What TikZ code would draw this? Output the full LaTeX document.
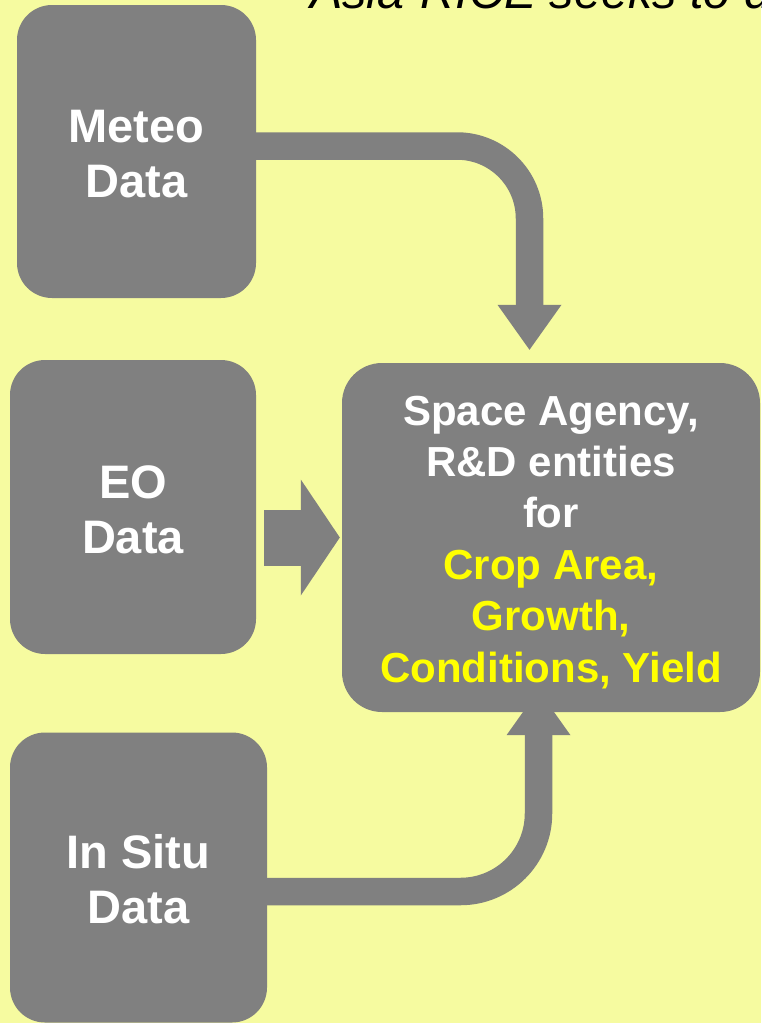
\documentclass[tikz,border=0pt]{standalone}
\usepackage{fontspec}
\setmainfont{Liberation Sans}
\usetikzlibrary{arrows.meta}
\definecolor{bgy}{HTML}{F6FBA0}
\definecolor{boxg}{HTML}{808080}
\definecolor{ytxt}{HTML}{FFFF00}
\pgfdeclarelayer{bgl}
\pgfdeclarelayer{arr}
\pgfsetlayers{bgl,arr,main}
\tikzset{
  srcbox/.style={fill=boxg, rounded corners=35pt, text=white, align=center,
    font=\fontsize{47}{55}\selectfont\bfseries, inner sep=0pt, text depth=0pt},
  hubbox/.style={fill=boxg, rounded corners=40pt, text=white, align=center,
    font=\fontsize{42}{51.4}\selectfont\bfseries, inner sep=0pt, text depth=0pt},
  flow/.style={draw=boxg, line width=27.5pt, rounded corners=#1,
    -{Triangle[length=45pt,width=64pt,line width=0pt]}},
  fatflow/.style={draw=boxg, line width=56pt,
    -{Triangle[length=39pt,width=116pt,line width=0pt]}},
  titletext/.style={font=\fontsize{48.5}{58}\selectfont\itshape, inner sep=0pt, anchor=base west}
}
\begin{document}
\begin{tikzpicture}[x=1pt,y=-1pt]
\useasboundingbox (0,0) rectangle (761,1023);
\begin{pgfonlayer}{bgl}
  \fill[bgy] (0,0) rectangle (761,1023);
\end{pgfonlayer}
\clip (0,0) rectangle (761,1023);

\node[titletext] (title) at (310,8) {Asia-RICE seeks to d};

\node[srcbox, text height=91pt, minimum width=239pt, minimum height=293pt] (meteo) at (136.5,151.5) {Meteo\\Data};
\node[srcbox, text height=92pt, minimum width=246pt, minimum height=294pt] (eo) at (133,507) {EO\\Data};
\node[srcbox, text height=91pt, minimum width=257pt, minimum height=290pt] (insitu) at (138.5,877.5) {In Situ\\Data};
\node[hubbox, text height=289pt, minimum width=418pt, minimum height=349pt] (hub) at (551,537.5)
  {Space Agency,\\R\&D entities\\for\\\textcolor{ytxt}{Crop Area,}\\\textcolor{ytxt}{Growth,}\\\textcolor{ytxt}{Conditions, Yield}};

\begin{pgfonlayer}{arr}
  \draw[flow=72.5pt] ([yshift=5.5pt]meteo.east) -| ([xshift=-21.5pt,yshift=13pt]hub.north);
  \draw[fatflow, shorten <=8pt] (eo.east |- hub.west) -- ([xshift=-2pt]hub.west);
  \draw[flow=78pt] ([yshift=-14pt]insitu.east) -| ([xshift=-12.5pt,yshift=22pt]hub.south);
\end{pgfonlayer}
\end{tikzpicture}
\end{document}
